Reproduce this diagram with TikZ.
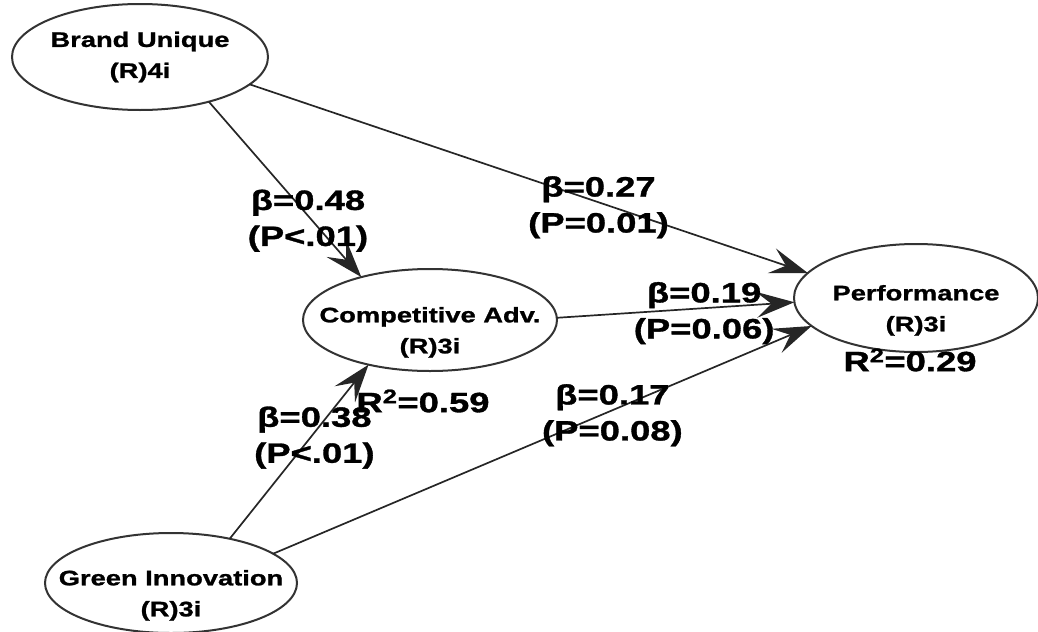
\documentclass[tikz,border=0pt]{standalone}
\usepackage{fontspec}
\setmainfont{Liberation Sans}[FakeStretch=1.3,BoldFeatures={FakeBold=1.2}]
\usepackage{tikz}
\usetikzlibrary{arrows.meta,shapes.geometric}

\tikzset{
  latent/.style={draw=black!80,line width=2bp,ellipse,inner sep=-60bp,outer sep=0pt,align=center,
    font=\fontsize{21bp}{31bp}\selectfont\bfseries},
  effect/.style={-{Stealth[length=38bp,width=26bp,inset=15bp]},draw=black!85,line width=1.7bp},
  coef/.style={align=center,inner sep=0pt,font=\fontsize{28bp}{36bp}\selectfont\bfseries},
  pathcoef/.style={coef,yshift=-5bp},
}

\begin{document}
\begin{tikzpicture}
\useasboundingbox (0bp,0bp) rectangle (1038bp,-632bp);

\node (BU) at (140bp,-57bp)[latent,minimum width=256bp,minimum height=106bp] {Brand Unique\\(R)4i};
\node (CA) at (430bp,-320bp)[latent,minimum width=254bp,minimum height=102bp] {\rule{0pt}{40bp}Competitive Adv.\\(R)3i};
\node (PF) at (916bp,-298bp)[latent,minimum width=244bp,minimum height=108bp] {\rule{0pt}{40bp}Performance\\(R)3i};
\node (GI) at (171bp,-583bp)[latent,minimum width=252bp,minimum height=100bp] {\rule{0pt}{40bp}Green Innovation\\(R)3i};

\node (R2CA) at (423bp,-401bp)[coef] {R\textsuperscript{2}=0.59};
\node (R2PF) at (910bp,-360bp)[coef] {R\textsuperscript{2}=0.29};

\draw [effect] (BU.-33) to node[pos=0.65,pathcoef] (BUCA) {β=0.48\\(P<.01)} (CA.148);
\draw [effect] (BU.-14) to node[pos=0.625,pathcoef] (BUPF) {β=0.27\\(P=0.01)} (PF.167);
\draw [effect] (CA.1) to node[pos=0.62,pathcoef] (CAPF) {β=0.19\\(P=0.06)} (PF.182);
\draw [effect] (GI.16) to node[pos=0.63,pathcoef] (GIPF) {β=0.17\\(P=0.08)} (PF.195);
\draw [effect] (GI.37) to node[pos=0.61,pathcoef] (GICA) {β=0.38\\(P<.01)} (CA.216);
\end{tikzpicture}
\end{document}
